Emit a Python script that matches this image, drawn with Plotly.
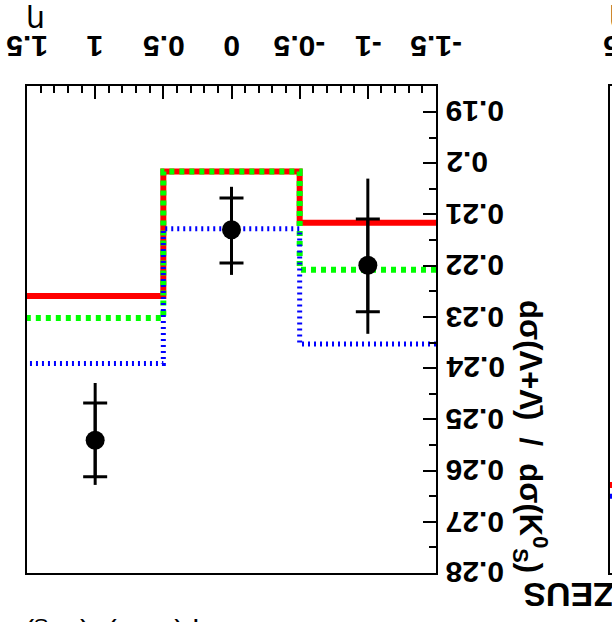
import plotly.graph_objects as go

# ---- data ----
eta_edges = [-1.5, -0.5, 0.5, 1.5]
eta_points = [-1.0, 0.0, 1.0]
ratio = [0.2199, 0.2130, 0.2541]
stat_minus = [0.0090, 0.0062, 0.0073]
stat_plus = [0.0091, 0.0065, 0.0071]
tot_minus = [0.0169, 0.0084, 0.0112]
tot_plus = [0.0134, 0.0088, 0.0087]
model_red = [0.2116, 0.2016, 0.2259]
model_green = [0.2208, 0.2016, 0.2302]
model_blue = [0.2353, 0.2128, 0.2391]

# neighbouring panel: only the edge of its last bin is visible
next_edges = [0.5, 1.5]
next_red = [0.2628]
next_blue = [0.2650]

x_ticks = [-1.5, -1, -0.5, 0, 0.5, 1, 1.5]
x_tick_text = ["-1.5", "-1", "-0.5", "0", "0.5", "1", "1.5"]
y_ticks = [0.19, 0.20, 0.21, 0.22, 0.23, 0.24, 0.25, 0.26, 0.27, 0.28]
y_tick_text = ["0.19", "0.2", "0.21", "0.22", "0.23", "0.24", "0.25", "0.26", "0.27", "0.28"]

W, H = 612, 622
ML, MR, MT, MB = 27, 0, 86, 49
PW = W - ML - MR
PH = H - MT - MB


def step(edges, vals):
    return list(edges), list(vals) + [vals[-1]]


def px_x(p):
    return (p - ML) / PW


def px_y(p):
    return (H - MB - p) / PH


fig = go.Figure()

# model curves
for vals, col, wid, dash in [
    (model_red, "#ff0000", 6, "solid"),
    (model_green, "#00ff00", 6, "5px,5px"),
    (model_blue, "#0000ff", 5, "2px,4px"),
]:
    xs, ys = step(eta_edges, vals)
    fig.add_trace(go.Scatter(x=xs, y=ys, mode="lines", line_shape="hv",
                             line=dict(color=col, width=wid, dash=dash),
                             xaxis="x", yaxis="y", showlegend=False, hoverinfo="skip"))

# total error bars
fig.add_trace(go.Scatter(x=eta_points, y=ratio, mode="markers",
                         marker=dict(size=1, color="black", opacity=0),
                         error_y=dict(type="data", symmetric=False, array=tot_plus,
                                      arrayminus=tot_minus, color="black", thickness=3, width=0),
                         xaxis="x", yaxis="y", showlegend=False))
# statistical error bars + points
fig.add_trace(go.Scatter(x=eta_points, y=ratio, mode="markers",
                         marker=dict(size=19, color="black", symbol="circle"),
                         error_y=dict(type="data", symmetric=False, array=stat_plus,
                                      arrayminus=stat_minus, color="black", thickness=3, width=12),
                         xaxis="x", yaxis="y", showlegend=False))

# neighbouring panel curves
for vals, col, wid in [(next_red, "#ff0000", 6), (next_blue, "#0000ff", 5)]:
    xs, ys = step(next_edges, vals)
    fig.add_trace(go.Scatter(x=xs, y=ys, mode="lines", line_shape="hv",
                             line=dict(color=col, width=wid),
                             xaxis="x2", yaxis="y2", showlegend=False, hoverinfo="skip"))

tick_font = dict(family="Liberation Sans", size=30, color="black", weight="bold")
y_range = [0.28, 0.28 - PH / 5122.0]
x1_right = 436
x2_left = 610
x2_range = [1.5, 1.5 - (W - x2_left) / 136.33]

fig.update_layout(
    width=W, height=H,
    margin=dict(l=ML, r=MR, t=MT, b=MB, pad=0),
    paper_bgcolor="white", plot_bgcolor="white",
    showlegend=False,
    xaxis=dict(domain=[0, px_x(x1_right)], range=[1.5, -1.5], side="top",
               anchor="y", tickvals=x_ticks, showticklabels=False,
               ticks="inside", ticklen=13, tickwidth=1.5, tickcolor="black",
               minor=dict(dtick=0.1, ticks="inside", ticklen=7, tickwidth=1.5, tickcolor="black"),
               showline=True, linewidth=2, linecolor="black", mirror=True, automargin=False,
               showgrid=False, zeroline=False),
    yaxis=dict(domain=[0, 1], range=y_range, side="right", anchor="x",
               tickvals=y_ticks, showticklabels=False,
               ticks="inside", ticklen=13, tickwidth=1.5, tickcolor="black",
               minor=dict(dtick=0.005, ticks="inside", ticklen=7, tickwidth=1.5, tickcolor="black"),
               showline=True, linewidth=2, linecolor="black", mirror=True, automargin=False,
               showgrid=False, zeroline=False),
    xaxis2=dict(domain=[px_x(x2_left), 1], range=x2_range,
                side="top", anchor="y2", tickvals=[1.5], showticklabels=False,
                ticks="inside", ticklen=13, tickcolor="black", automargin=False,
                showline=True, linewidth=2, linecolor="black", mirror=True,
                showgrid=False, zeroline=False),
    yaxis2=dict(domain=[0, 1], range=y_range, side="left", anchor="x2", automargin=False,
                showticklabels=False, ticks="", showline=True, linewidth=2,
                linecolor="black", mirror=False, showgrid=False, zeroline=False),
)

ann = []
# y tick labels, placed on the y scale, upside down
for v, t in zip(y_ticks, y_tick_text):
    ann.append(dict(text=t, x=px_x(x1_right + 8), y=v, xref="paper", yref="y",
                    xanchor="left", yanchor="middle", textangle=180,
                    font=tick_font, showarrow=False))
# x tick labels, placed on the x scale, upside down
for v, t in zip(x_ticks, x_tick_text):
    ann.append(dict(text=t, x=v, y=px_y(47), xref="x", yref="paper",
                    xanchor="center", yanchor="middle", textangle=180,
                    font=tick_font, showarrow=False))
ann.append(dict(text="1.5", x=x2_range[0], xshift=14, y=px_y(47), xref="x2", yref="paper",
                xanchor="center", yanchor="middle", textangle=180,
                font=tick_font, showarrow=False))

common = dict(xref="paper", yref="paper", showarrow=False, xanchor="center", yanchor="middle")
eta_font = dict(family="DejaVu Sans", size=30, color="black")
for a in [
    dict(text="η", x=px_x(36), y=px_y(22), font=eta_font, textangle=180),
    dict(text="η", x=px_x(619), y=px_y(22), font=eta_font, textangle=180),
    dict(text="dσ(Λ+Λ̄)  /  dσ(K<sup>0</sup><sub>S</sub>)", x=px_x(531), y=px_y(436),
         font=dict(family="Liberation Sans", size=31, color="black", weight="bold"), textangle=90),
    dict(text="ZEUS", x=px_x(569), y=px_y(595),
         font=dict(family="Liberation Sans", size=34, color="black", weight="bold"), textangle=180),
    dict(text="dη (Λ+Λ̄)  (K<sup>0</sup><sub>S</sub>)", x=px_x(125), y=px_y(636),
         font=dict(family="Liberation Sans", size=30, color="black"), textangle=180),
]:
    a.update(common)
    ann.append(a)
fig.update_layout(annotations=ann)

fig.write_html("out.html", config={"displayModeBar": False},
               post_script="document.body.style.margin='0px';")
